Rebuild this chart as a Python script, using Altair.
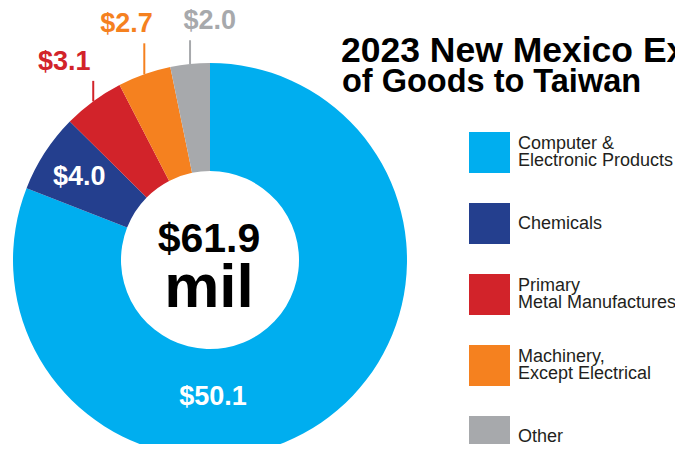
import altair as alt
import pandas as pd

# ---- data ----
categories = [
    "Computer &\nElectronic Products",
    "Chemicals",
    "Primary\nMetal Manufactures",
    "Machinery,\nExcept Electrical",
    "Other",
]
values = [50.1, 4.0, 3.1, 2.7, 2.0]
colors = ["#00AEEF", "#243F8E", "#D2232A", "#F5811F", "#A7A9AC"]
title_line1 = "2023 New Mexico Exports"
title_line2 = "of Goods to Taiwan"
unit_text = "mil"

# ---- layout constants (view coordinates) ----
FONT = "Liberation Sans"
CX, CY = 202, 252
R_OUT, R_IN = 197, 89

df = pd.DataFrame({"category": categories, "value": values, "idx": list(range(len(values)))})

cscale = alt.Scale(domain=categories, range=colors)
color_nolegend = alt.Color("category:N", scale=cscale, legend=None)

base = alt.Chart(df).encode(
    theta=alt.Theta("value:Q", stack=True),
    order=alt.Order("idx:Q", sort="ascending"),
    x=alt.value(CX),
    y=alt.value(CY),
)

arcs = base.mark_arc(radius=R_OUT, radius2=R_IN).encode(color=color_nolegend)

lab_expr = "'$' + format(datum.value, '.1f')"

inner_text = base.transform_calculate(
    lab=f"datum.value >= 3.5 && datum.value < 20 ? {lab_expr} : ''"
).mark_text(
    radius=156, dy=2, font=FONT, fontSize=27, fontWeight="bold", color="white"
).encode(text="lab:N")

big_text = alt.Chart(df).transform_filter("datum.value >= 20").transform_calculate(
    lab=lab_expr
).mark_text(
    theta=3.12, radius=137, font=FONT, fontSize=27, fontWeight="bold", color="white"
).encode(text="lab:N", x=alt.value(CX), y=alt.value(CY))

# label radius / shift of the small outer slices (layout only)
OUTER = {2: (246, 0), 3: (250, 0), 4: (240, 24)}
lr_expr = "datum.idx == 4 ? 240 : (datum.idx == 3 ? 250 : 246)"


def outer_label(i):
    r, dx = OUTER[i]
    return base.transform_calculate(
        lab=f"datum.idx == {i} ? {lab_expr} : ''"
    ).mark_text(
        radius=r, dx=dx, font=FONT, fontSize=27, fontWeight="bold"
    ).encode(text="lab:N", color=color_nolegend)


outer_layers = [outer_label(i) for i in sorted(OUTER)]

rules = (
    alt.Chart(df)
    .transform_window(cum="sum(value)", sort=[alt.SortField("idx")], frame=[None, 0])
    .transform_joinaggregate(total="sum(value)")
    .transform_calculate(
        mid="(datum.cum - datum.value / 2) / datum.total * 2 * PI",
        lr=lr_expr,
    )
    .transform_calculate(
        lx=f"{CX} + {R_OUT} * sin(datum.mid)",
        ly=f"{CY} - {R_OUT} * cos(datum.mid)",
        ly2=f"{CY} - datum.lr * cos(datum.mid) + 19",
    )
    .transform_filter("datum.value < 3.5")
    .mark_rule(strokeWidth=2)
    .encode(
        x=alt.X("lx:Q", scale=None),
        y=alt.Y("ly:Q", scale=None),
        y2="ly2:Q",
        color=color_nolegend,
    )
)

# ---- legend (swatches on a point scale of the categories) ----
leg_y = alt.Y(
    "category:N",
    scale=alt.Scale(type="point", domain=categories, range=[144.5, 428.5], padding=0),
    axis=None,
)
LEG_X, LBL_X = 481.5, 510

swatches = alt.Chart(df).mark_square(size=1681, opacity=1, strokeWidth=0).encode(
    x=alt.value(LEG_X), y=leg_y, color=color_nolegend
)

leg_text = alt.Chart(df).transform_calculate(
    two="indexof(datum.category, '\\n') >= 0",
).transform_calculate(
    l1="datum.two ? split(datum.category, '\\n')[0] : ''",
    l2="datum.two ? split(datum.category, '\\n')[1] : ''",
    ls="datum.two ? '' : datum.category",
)


def leg_label(field, dy):
    return leg_text.mark_text(
        align="left", baseline="middle", dy=dy, font=FONT, fontSize=18, color="#231F20"
    ).encode(text=f"{field}:N", x=alt.value(LBL_X), y=leg_y)


legend_layers = [leg_label("l1", -8.5), leg_label("l2", 8.5), leg_label("ls", 0)]

# ---- centre total and title ----
total_base = alt.Chart(df).transform_aggregate(total="sum(value)")

center = total_base.transform_calculate(
    lab="'$' + format(datum.total, '.1f')"
).mark_text(
    font=FONT, fontSize=41, fontWeight="bold", baseline="alphabetic", align="center", color="black"
).encode(text="lab:N", x=alt.value(CX - 1), y=alt.value(244))

mil = total_base.mark_text(
    font=FONT, fontSize=62, fontWeight="bold", baseline="alphabetic", align="center", color="black"
).encode(text=alt.value(unit_text), x=alt.value(CX - 1), y=alt.value(299))

title1 = total_base.mark_text(
    font=FONT, fontSize=35.5, fontWeight="bold", baseline="alphabetic", align="left", color="black"
).encode(text=alt.value(title_line1), x=alt.value(333), y=alt.value(54))

title2 = total_base.mark_text(
    font=FONT, fontSize=32.5, fontWeight="bold", baseline="alphabetic", align="left", color="black"
).encode(text=alt.value(title_line2), x=alt.value(334), y=alt.value(84))

chart = (
    alt.layer(
        arcs, inner_text, big_text, *outer_layers, rules,
        swatches, *legend_layers, center, mil, title1, title2,
    )
    .resolve_scale(y="independent")
    .properties(width=667, height=436, padding=0, autosize="none")
    .configure_view(stroke=None)
)

chart.save("out.html", embed_options={"renderer": "svg", "actions": False})
